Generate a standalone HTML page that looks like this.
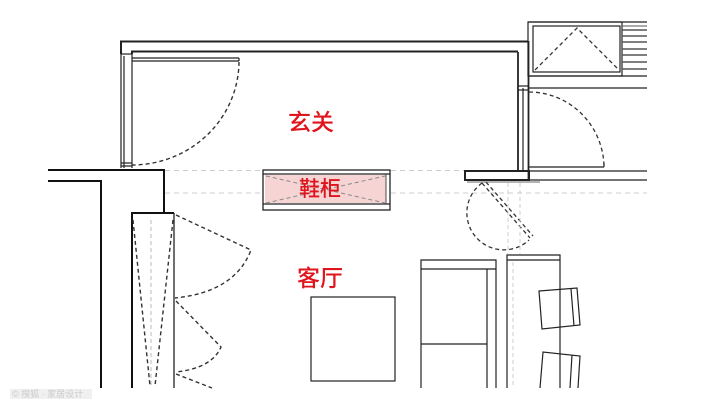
<!DOCTYPE html>
<html><head><meta charset="utf-8"><style>
html,body{margin:0;padding:0;background:#fff;width:720px;height:409px;overflow:hidden}
svg{display:block}
text{font-family:"Liberation Sans","Noto Sans CJK SC",sans-serif}
</style></head><body>
<svg width="720" height="409" viewBox="0 0 720 409" xmlns="http://www.w3.org/2000/svg">
<rect width="720" height="409" fill="#fff"/>
<g fill="none" stroke="#222" stroke-width="1.2">
<path d="M121,54 V41.5 H528" stroke-width="2"/>
<path d="M132,54 V51.5 H518" stroke-width="2"/>
<line x1="121" y1="54" x2="132" y2="54"/>
<line x1="121" y1="54" x2="121" y2="168"/>
<line x1="124" y1="56" x2="124" y2="168"/>
<line x1="132" y1="54" x2="132" y2="168"/>
<line x1="121" y1="163" x2="132" y2="163"/>
<line x1="121" y1="166" x2="132" y2="166"/>
<line x1="132" y1="58" x2="239" y2="58"/>
<line x1="132" y1="61" x2="239" y2="61"/>
<line x1="239" y1="58" x2="239" y2="61"/>
</g>
<path d="M239,62 A107,104 0 0 1 132,165" fill="none" stroke="#333" stroke-width="1.4" stroke-dasharray="4,3"/>
<path d="M48,170 H164 V213" fill="none" stroke="#111" stroke-width="2"/>
<path d="M48,181 H101 V388" fill="none" stroke="#111" stroke-width="2"/>
<path d="M132,388 V213 H174" fill="none" stroke="#111" stroke-width="2"/>
<line x1="174" y1="213" x2="174" y2="388" stroke="#222" stroke-width="1.3"/>
<g fill="none" stroke="#333" stroke-width="1.4" stroke-dasharray="4,3">
<line x1="133" y1="220" x2="150" y2="386"/>
<line x1="173" y1="220" x2="155" y2="386"/>
<path d="M176,215 L251,250 Q235,292 175,298"/>
<path d="M176,301 L221,347 Q212,368 176,372"/>
<path d="M176,374 L212,388"/>
</g>
<line x1="151" y1="220" x2="151" y2="388" stroke="#bbb" stroke-width="1" stroke-dasharray="4,3"/>
<g stroke="#ccc" stroke-width="1" stroke-dasharray="5,4">
<line x1="165" y1="170.5" x2="263" y2="170.5"/>
<line x1="165" y1="193" x2="263" y2="193"/>
<line x1="391" y1="170.5" x2="465" y2="170.5"/>
<line x1="391" y1="193" x2="647" y2="193"/>
</g>
<rect x="265" y="175" width="121" height="28" fill="#f6d4d4"/>
<g fill="none" stroke="#222" stroke-width="1.3">
<rect x="263" y="170" width="127" height="40"/>
<line x1="263" y1="174" x2="390" y2="174"/>
<line x1="263" y1="204" x2="390" y2="204"/>
<line x1="386" y1="174" x2="386" y2="204" stroke-width="0.8"/>
</g>
<g stroke="#888" stroke-width="1" stroke-dasharray="4,3">
<line x1="266" y1="176" x2="385" y2="203"/>
<line x1="266" y1="203" x2="385" y2="176"/>
</g>
<text x="320" y="196" font-size="21" font-weight="500" fill="#e0141c" text-anchor="middle">鞋柜</text>
<text x="311" y="130" font-size="23" font-weight="500" fill="#e0141c" text-anchor="middle">玄关</text>
<text x="320" y="286" font-size="23" font-weight="500" fill="#e0141c" text-anchor="middle">客厅</text>
<g fill="none" stroke="#222" stroke-width="1.2">
<line x1="518" y1="52" x2="518" y2="171" stroke-width="1.8"/>
<line x1="523" y1="88" x2="523" y2="171"/>
<line x1="528.5" y1="41" x2="528.5" y2="180" stroke-width="1.8"/>
<line x1="518" y1="86" x2="528" y2="86"/>
<line x1="518" y1="90" x2="528" y2="90"/>
<rect x="465" y="171" width="64" height="9" stroke-width="2"/>
<line x1="467" y1="182" x2="540" y2="182" stroke="#888"/>
<line x1="529" y1="171" x2="647" y2="171"/>
<line x1="529" y1="180" x2="647" y2="180"/>
<line x1="529" y1="167" x2="604" y2="167"/>
<line x1="604" y1="163" x2="604" y2="167"/>
<line x1="528" y1="22" x2="647" y2="22"/>
<rect x="528" y="22" width="94" height="54"/>
<rect x="533" y="26" width="87" height="46"/>
<line x1="528" y1="76" x2="647" y2="76"/>
<line x1="528" y1="88" x2="647" y2="88"/>
</g>
<g stroke="#555" stroke-width="1.6">
<line x1="622" y1="30" x2="647" y2="30"/>
<line x1="622" y1="36" x2="647" y2="36"/>
<line x1="622" y1="42" x2="647" y2="42"/>
<line x1="622" y1="49" x2="647" y2="49"/>
<line x1="622" y1="55" x2="647" y2="55"/>
<line x1="622" y1="62" x2="647" y2="62"/>
<line x1="622" y1="69" x2="647" y2="69"/>
<line x1="622" y1="26" x2="647" y2="26" stroke-width="1"/>
</g>
<g fill="none" stroke="#333" stroke-width="1.3" stroke-dasharray="4,3">
<path d="M535,70 L577,28 L619,70"/>
<path d="M529,92 A75,76 0 0 1 604,166"/>
<path d="M482,183 A37,37 0 1 0 529,240"/>
<line x1="482" y1="183" x2="530" y2="238"/>
<line x1="486" y1="182" x2="533" y2="236"/>
</g>
<g stroke="#ccc" stroke-width="1" stroke-dasharray="4,3">
<line x1="508" y1="183" x2="508" y2="254"/>
<line x1="520" y1="183" x2="520" y2="254"/>
<line x1="513" y1="262" x2="513" y2="388"/>
</g>
<g fill="none" stroke="#222" stroke-width="1.2">
<rect x="311" y="297" width="84" height="84"/>
<path d="M421,388 V260 H496 V388"/>
<line x1="421" y1="269" x2="496" y2="269"/>
<line x1="487" y1="269" x2="487" y2="388"/>
<line x1="421" y1="344" x2="487" y2="344"/>
<path d="M507,388 V255 H560 V388"/>
<line x1="507" y1="260" x2="560" y2="260"/>
<path d="M539,291 L577,288 L580,325 L542,329 Z"/>
<line x1="571" y1="289" x2="574" y2="326"/>
<path d="M540,388 L543,352 L580,356 L578,388"/>
<line x1="572" y1="355" x2="570" y2="388"/>
</g>
<rect x="10" y="389" width="82" height="10" fill="#f0f0f0"/>
<text x="12" y="397" font-size="9" fill="#ccc">© 搜狐 · 家居设计</text>
</svg>
</body></html>
